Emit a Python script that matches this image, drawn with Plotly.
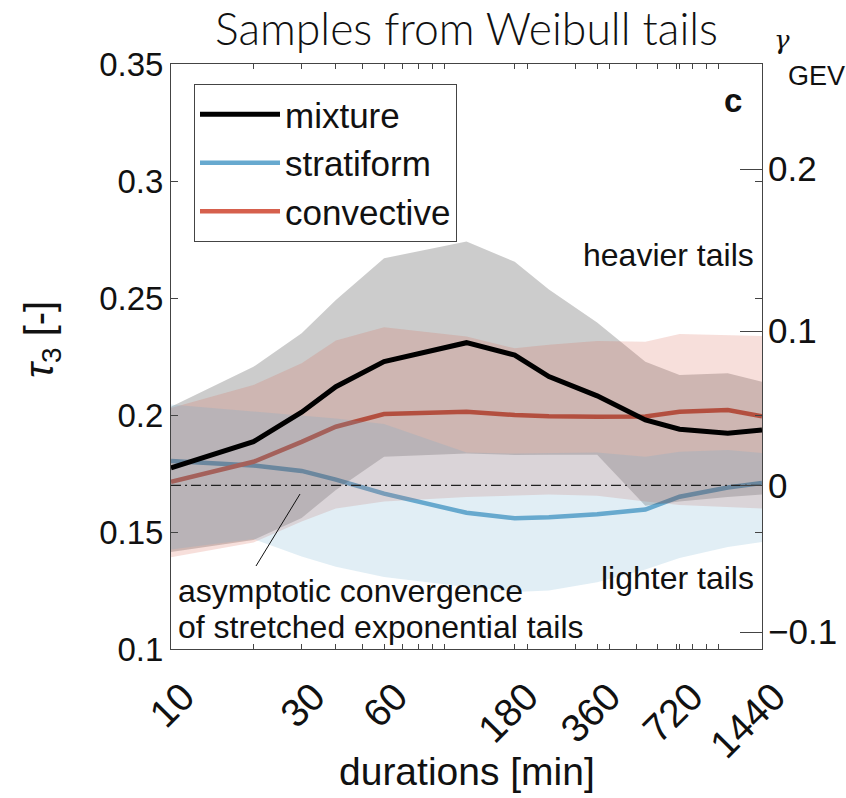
import numpy as np
import plotly.graph_objects as go

# Durations (minutes) at which L-skewness was estimated
durations = [10, 20, 30, 40, 60, 120, 180, 240, 360, 540, 720, 1080, 1440]

# Median L-skewness (tau_3) per rainfall type
mixture_tau3 = [0.1774, 0.1886, 0.2012, 0.2121, 0.2228, 0.2309, 0.2256, 0.2164, 0.2082, 0.1979, 0.1939, 0.1922, 0.1936]
stratiform_tau3 = [0.1803, 0.1784, 0.1761, 0.1724, 0.1664, 0.1582, 0.1559, 0.1563, 0.1576, 0.1596, 0.1651, 0.1690, 0.1710]
convective_tau3 = [0.1715, 0.1800, 0.1885, 0.1950, 0.2004, 0.2014, 0.2000, 0.1995, 0.1993, 0.1994, 0.2014, 0.2021, 0.1995]

# Uncertainty bands (lower / upper)
mixture_lower = [0.1415, 0.1466, 0.1560, 0.1680, 0.1822, 0.1836, 0.1829, 0.1830, 0.1830, 0.1612, 0.1630, 0.1650, 0.1660]
mixture_upper = [0.2035, 0.2206, 0.2349, 0.2491, 0.2670, 0.2741, 0.2655, 0.2536, 0.2395, 0.2228, 0.2171, 0.2178, 0.2142]
stratiform_lower = [0.1425, 0.1470, 0.1395, 0.1352, 0.1308, 0.1265, 0.1244, 0.1250, 0.1285, 0.1340, 0.1389, 0.1436, 0.1457]
stratiform_upper = [0.2045, 0.2015, 0.2000, 0.1985, 0.1962, 0.1840, 0.1835, 0.1838, 0.1840, 0.1822, 0.1843, 0.1850, 0.1838]
convective_lower = [0.1392, 0.1455, 0.1545, 0.1600, 0.1630, 0.1650, 0.1655, 0.1660, 0.1655, 0.1630, 0.1615, 0.1605, 0.1600]
convective_upper = [0.2030, 0.2128, 0.2221, 0.2318, 0.2375, 0.2335, 0.2285, 0.2300, 0.2316, 0.2313, 0.2346, 0.2342, 0.2338]

# Axis ticks: labelled durations plus unlabelled log sub-divisions
x_labelled = [10, 30, 60, 180, 360, 720, 1440]
x_subticks = [20, 40, 50, 70, 80, 90, 100, 200, 300, 400, 500, 600, 700, 800, 900, 1000]
tau_ticks = [0.1, 0.15, 0.2, 0.25, 0.3, 0.35]
tau_labels = ["0.1", "0.15", "0.2", "0.25", "0.3", "0.35"]
gamma_ticks = [0.2, 0.1, 0.0, -0.1]
gamma_labels = ["0.2", "0.1", "0", "\u22120.1"]

BLACK = (0, 0, 0)
BLUE = (103, 169, 207)
RED = (214, 96, 77)


def rgb(c, a=None):
    if a is None:
        return "rgb(%d,%d,%d)" % c
    return "rgba(%d,%d,%d,%.3f)" % (c + (a,))


def gev_tau3(g):
    """L-skewness of a GEV distribution with shape parameter g (Hosking)."""
    if abs(g) < 1e-12:
        return 2 * np.log(3) / np.log(2) - 3
    return 2 * (1 - 3.0 ** g) / (1 - 2.0 ** g) - 3


FONT = "Liberation Sans, Arial, Helvetica, sans-serif"
AX = "#444444"
TXT = "#111111"


def px_x(p):
    return (p - 171) / 591


def px_y(p):
    return (649 - p) / 585


x_all = sorted(x_labelled + x_subticks)
x_text = [str(v) if v in x_labelled else "" for v in x_all]

fig = go.Figure()

# Coloured medians sit under the translucent bands
for name, vals, col, rank in [("stratiform", stratiform_tau3, BLUE, 2),
                              ("convective", convective_tau3, RED, 3)]:
    fig.add_trace(go.Scatter(x=durations, y=vals, mode="lines", name=name, legendrank=rank,
                             line=dict(color=rgb(col), width=4.5)))

# Bands
for lo, hi, col, a in [(mixture_lower, mixture_upper, BLACK, 0.2),
                       (convective_lower, convective_upper, RED, 0.2),
                       (stratiform_lower, stratiform_upper, BLUE, 0.2)]:
    fig.add_trace(go.Scatter(x=durations + durations[::-1], y=hi + lo[::-1],
                             mode="lines", fill="toself", fillcolor=rgb(col, a),
                             line=dict(width=0), hoverinfo="skip", showlegend=False))

# Mixture median on top
fig.add_trace(go.Scatter(x=durations, y=mixture_tau3, mode="lines", name="mixture", legendrank=1,
                         line=dict(color="black", width=5)))

# Gumbel reference (gamma_GEV = 0) on the secondary axis
g0 = gev_tau3(0.0)
fig.add_trace(go.Scatter(x=[durations[0], durations[-1]], y=[g0, g0], yaxis="y2",
                         mode="lines", showlegend=False, hoverinfo="skip",
                         line=dict(color="#222222", width=1.2, dash="10px,4px,2px,4px")))

fig.update_layout(
    width=846, height=798,
    margin=dict(l=171, r=84, t=64, b=149, autoexpand=False),
    plot_bgcolor="white", paper_bgcolor="white",
    font=dict(family=FONT, color=TXT, size=33),
    title=dict(text="Samples from Weibull tails", x=0.5, xref="paper", xanchor="center",
               y=1 - 29 / 798, yref="container", yanchor="middle",
               font=dict(family="Lato Light, Lato, Open Sans, sans-serif", size=44.5,
                         color=TXT, weight=300)),
    legend=dict(x=px_x(194), y=px_y(84), xanchor="left", yanchor="top",
                bgcolor="white", bordercolor=AX, borderwidth=1,
                font=dict(family=FONT, size=35, color=TXT),
                itemwidth=80, tracegroupgap=0),
    xaxis=dict(type="log", range=[1, np.log10(1440)], automargin=False,
               tickmode="array", tickvals=x_all, ticktext=x_text,
               tickangle=-45, ticks="inside", ticklen=5, tickcolor=AX,
               ticklabelstandoff=8, ticklabelshift=12, tickfont=dict(size=39),
               showline=True, linecolor=AX, linewidth=1, mirror="ticks",
               showgrid=False, zeroline=False),
    yaxis=dict(range=[0.1, 0.35], automargin=False,
               tickmode="array", tickvals=tau_ticks, ticktext=tau_labels,
               ticks="inside", ticklen=7, tickcolor=AX,
               showline=True, linecolor=AX, linewidth=1, mirror="ticks",
               showgrid=False, zeroline=False),
    yaxis2=dict(overlaying="y", side="right", anchor="x", range=[0.1, 0.35], automargin=False,
                tickmode="array", tickvals=[gev_tau3(g) for g in gamma_ticks], ticktext=gamma_labels,
                ticks="inside", ticklen=22, tickcolor=AX, showline=False, ticklabelstandoff=5,
                showgrid=False, zeroline=False, tickfont=dict(size=35)),
)


def label(text, x, y, size=33, xanchor="center", family=FONT, angle=0):
    fig.add_annotation(text=text, x=px_x(x), y=px_y(y), xref="paper", yref="paper",
                       xanchor=xanchor, yanchor="middle", showarrow=False, textangle=angle,
                       font=dict(family=family, size=size, color=TXT))


# Axis titles
label("durations [min]", 467, 771, size=39)
label("<i>τ</i><sub>3</sub> [-]", 42, 340, size=40, angle=-90)

# Right-axis label
label("<i>γ</i>", 782, 40, size=26, family="DejaVu Serif, serif")
label("GEV", 816, 76, size=27)

# Panel letter and tail annotations
label("<b>c</b>", 733, 100, size=33)
label("heavier tails", 756, 255, size=32, xanchor="right")
label("lighter tails", 756, 578, size=32, xanchor="right")
label("asymptotic convergence", 176, 591, size=32, xanchor="left")
label("of stretched exponential tails", 176, 627, size=32, xanchor="left")
fig.add_shape(type="line", xref="paper", yref="paper",
              x0=px_x(256), y0=px_y(566), x1=px_x(300), y1=px_y(494),
              line=dict(color=TXT, width=1))

fig.write_html("out.html")
